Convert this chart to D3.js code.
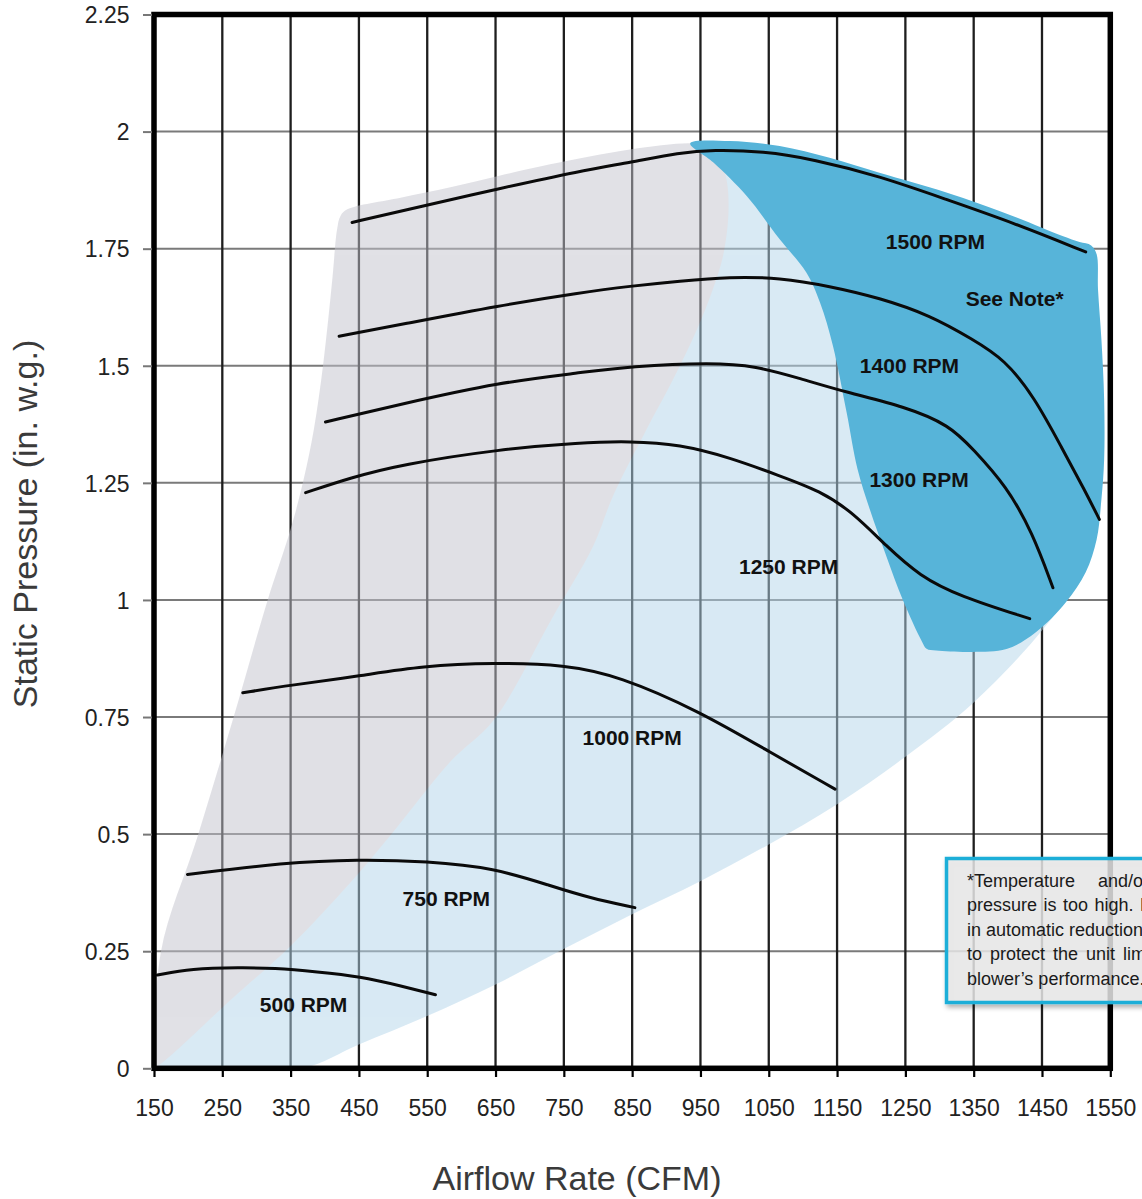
<!DOCTYPE html>
<html><head><meta charset="utf-8">
<script src="https://cdn.jsdelivr.net/npm/d3@7"></script>
<style>body{margin:0;background:#fff}svg{display:block}</style>
</head><body>
<svg id="chart" width="1142" height="1199"></svg>
<script>
// ---------- data ----------
const cfmTicks = [150,250,350,450,550,650,750,850,950,1050,1150,1250,1350,1450,1550];
const pressureTicks = [0,0.25,0.5,0.75,1,1.25,1.5,1.75,2,2.25];
const pressureTickLabels = ["0","0.25","0.5","0.75","1","1.25","1.5","1.75","2","2.25"];

const rpm500Cfm = [155,204,277,325,389,452,511,562];
const rpm500Sp  = [0.199,0.213,0.215,0.214,0.206,0.196,0.176,0.157];
const rpm750Cfm = [199,340,448,550,648,732,787,854];
const rpm750Sp  = [0.414,0.439,0.446,0.442,0.428,0.389,0.364,0.343];
const rpm1000Cfm = [280,350,452,543,648,752,830,948,1053,1147];
const rpm1000Sp  = [0.802,0.818,0.838,0.859,0.866,0.862,0.838,0.763,0.674,0.596];
const rpm1250Cfm = [372,438,511,657,774,847,920,993,1066,1125,1173,1222,1271,1329,1432];
const rpm1250Sp  = [1.229,1.261,1.289,1.322,1.336,1.339,1.332,1.304,1.265,1.233,1.187,1.115,1.051,1.008,0.960];
const rpm1300Cfm = [401,511,657,774,847,968,1032,1091,1164,1249,1315,1349,1398,1436,1466];
const rpm1300Sp  = [1.380,1.418,1.465,1.485,1.499,1.507,1.499,1.475,1.443,1.413,1.373,1.322,1.243,1.144,1.026];
const rpm1400Cfm = [421,511,657,774,847,920,993,1066,1139,1212,1286,1349,1395,1439,1480,1512,1534];
const rpm1400Sp  = [1.563,1.588,1.629,1.656,1.670,1.681,1.690,1.688,1.670,1.645,1.608,1.556,1.514,1.433,1.322,1.236,1.172];
const rpm1500Cfm = [440,511,657,774,847,920,968,1042,1115,1212,1310,1407,1514];
const rpm1500Sp  = [1.806,1.830,1.879,1.916,1.934,1.955,1.961,1.958,1.941,1.905,1.855,1.806,1.743];

const labelText = ["1500 RPM","See Note*","1400 RPM","1300 RPM","1250 RPM","1000 RPM","750 RPM","500 RPM"];
const labelCfm  = [1294,1410,1256,1270,1079,850,578,369];
const labelSp   = [1.766,1.644,1.501,1.257,1.072,0.707,0.363,0.137];

// operating regions (outline points)
const greyRegionCfm = [153,160,214,267,316,350,369,384,398,411,418,423,433,511,584,657,730,847,935,957,976,988,991,983,968,945,910,871,822,793,732,648,584,496,438,350,263,156];
const greyRegionSp  = [0.006,0.248,0.496,0.752,0.998,1.151,1.257,1.364,1.507,1.684,1.791,1.820,1.834,1.859,1.881,1.906,1.930,1.962,1.975,1.970,1.945,1.898,1.827,1.734,1.663,1.578,1.471,1.364,1.222,1.115,0.959,0.745,0.655,0.497,0.397,0.261,0.147,0.006];
const lightRegionCfm = [156,365,450,549,650,749,850,949,1050,1150,1249,1350,1449,1490,1519,1519,1440,1000,960];
const lightRegionSp  = [0.006,0,0.051,0.111,0.179,0.254,0.329,0.399,0.478,0.564,0.664,0.781,0.933,1.02,1.21,1.64,1.78,1.9,1.95];
const darkRegionCfm = [935,993,1066,1139,1212,1310,1407,1480,1505,1522,1530,1532,1537,1541,1541,1537,1530,1514,1485,1441,1398,1348,1295,1281,1274,1246,1222,1198,1180,1164,1144,1125,1105,1066,1018,969];
const darkRegionSp  = [1.975,1.980,1.969,1.944,1.912,1.870,1.820,1.777,1.764,1.757,1.738,1.663,1.556,1.428,1.300,1.215,1.129,1.059,0.995,0.931,0.895,0.889,0.892,0.896,0.912,1.001,1.094,1.193,1.279,1.400,1.542,1.635,1.699,1.770,1.862,1.934];

const noteLines = ["*Temperature and/or","pressure is too high. May result","in automatic reduction of","to protect the unit limiting","blower\u2019s performance."];

// ---------- drawing ----------
const svg = d3.select("#chart");
const FONT = "'Liberation Sans', Arial, Helvetica, sans-serif";
const x = d3.scaleLinear().domain([150,1550]).range([154,1110.3]);
const y = d3.scaleLinear().domain([0,2.25]).range([1068.3,14.5]);

const defs = svg.append("defs");
defs.append("clipPath").attr("id","plotclip").append("rect")
  .attr("x",x(150)).attr("y",y(2.25)).attr("width",x(1550)-x(150)).attr("height",y(0)-y(2.25));
const f = defs.append("filter").attr("id","shadow").attr("x","-10%").attr("y","-10%").attr("width","130%").attr("height","140%");
f.append("feDropShadow").attr("dx",2).attr("dy",3).attr("stdDeviation",2.5).attr("flood-color","#000").attr("flood-opacity",0.35);

// grid
svg.append("g").selectAll("line").data(pressureTicks.slice(1,-1)).join("line")
  .attr("x1",x(150)).attr("x2",x(1550)).attr("y1",d=>y(d)).attr("y2",d=>y(d))
  .attr("stroke","#7a7a7a").attr("stroke-width",2);
svg.append("g").selectAll("line").data(cfmTicks.slice(1,-1)).join("line")
  .attr("x1",d=>x(d)).attr("x2",d=>x(d)).attr("y1",y(2.25)).attr("y2",y(0))
  .attr("stroke","#1e1e1e").attr("stroke-width",2.3);

// regions
const pts = (cx, cy) => cx.map((c,i)=>[c, cy[i]]);
const area = d3.line().x(d=>x(d[0])).y(d=>y(d[1])).curve(d3.curveCatmullRomClosed.alpha(0.5));
const regions = svg.append("g").attr("clip-path","url(#plotclip)");
const soft = regions.append("g").attr("opacity",0.5);
soft.append("path").attr("d",area(pts(lightRegionCfm,lightRegionSp))).attr("fill","#b3d5ea");
soft.append("path").attr("d",area(pts(greyRegionCfm,greyRegionSp))).attr("fill","#c3c3cd");
regions.append("path").attr("d",area(pts(darkRegionCfm,darkRegionSp))).attr("fill","#57b4d9");

// curves
const curveLine = d3.line().x(d=>x(d[0])).y(d=>y(d[1])).curve(d3.curveBasis);
const series = [[rpm500Cfm,rpm500Sp],[rpm750Cfm,rpm750Sp],[rpm1000Cfm,rpm1000Sp],[rpm1250Cfm,rpm1250Sp],
                [rpm1300Cfm,rpm1300Sp],[rpm1400Cfm,rpm1400Sp],[rpm1500Cfm,rpm1500Sp]];
svg.append("g").selectAll("path").data(series).join("path")
  .attr("d",s=>curveLine(pts(s[0],s[1])))
  .attr("fill","none").attr("stroke","#0a0a0a").attr("stroke-width",3).attr("stroke-linecap","round");

// curve labels
svg.append("g").selectAll("text").data(labelText).join("text")
  .attr("x",(d,i)=>x(labelCfm[i])).attr("y",(d,i)=>y(labelSp[i]))
  .attr("text-anchor","middle").attr("dy","0.36em")
  .style("font-family",FONT).style("font-weight","bold").style("font-size","21px").attr("fill","#111")
  .text(d=>d);

// frame
svg.append("rect").attr("x",x(150)).attr("y",y(2.25)).attr("width",x(1550)-x(150)).attr("height",y(0)-y(2.25))
  .attr("fill","none").attr("stroke","#000").attr("stroke-width",5.5);

// axes
const yAxis = svg.append("g").attr("transform","translate(152,0)")
  .call(d3.axisLeft(y).tickValues(pressureTicks).tickFormat((d,i)=>pressureTickLabels[i]).tickSize(9).tickPadding(13.5));
yAxis.select(".domain").remove();
yAxis.selectAll(".tick line").attr("stroke","#777").attr("stroke-width",2);
yAxis.selectAll(".tick text").attr("dy","0.36em").attr("fill","#222")
  .style("font-family",FONT).style("font-size","23px");

const xAxis = svg.append("g").attr("transform","translate(0,1070)")
  .call(d3.axisBottom(x).tickValues(cfmTicks).tickFormat(d=>String(d)).tickSize(7).tickPadding(23));
xAxis.select(".domain").remove();
xAxis.selectAll(".tick line").attr("stroke","#000").attr("stroke-width",2.2);
xAxis.selectAll(".tick text").attr("fill","#222")
  .style("font-family",FONT).style("font-size","23px");

// axis titles
svg.append("text").attr("x",577).attr("y",1190).attr("text-anchor","middle")
  .style("font-family",FONT).style("font-size","34px").attr("fill","#3a3a3a").text("Airflow Rate (CFM)");
svg.append("text").attr("transform","translate(37,524) rotate(-90)").attr("text-anchor","middle")
  .style("font-family",FONT).style("font-size","34px").attr("fill","#3a3a3a").text("Static Pressure (in. w.g.)");

// note box
const note = svg.append("g");
note.append("rect").attr("x",946.5).attr("y",858.5).attr("width",260).attr("height",144)
  .attr("fill","rgba(236,236,236,0.8)").attr("stroke","#1aaed8").attr("stroke-width",3.5)
  .attr("filter","url(#shadow)");
const spacing = [18,1.5,0,3,0];
note.selectAll("text").data(noteLines).join("text")
  .attr("x",967).attr("y",(d,i)=>887+i*24.4)
  .attr("word-spacing",(d,i)=>spacing[i])
  .style("font-family",FONT).style("font-size","18px").attr("fill","#1a1a1a")
  .text(d=>d);
</script>
</body></html>
